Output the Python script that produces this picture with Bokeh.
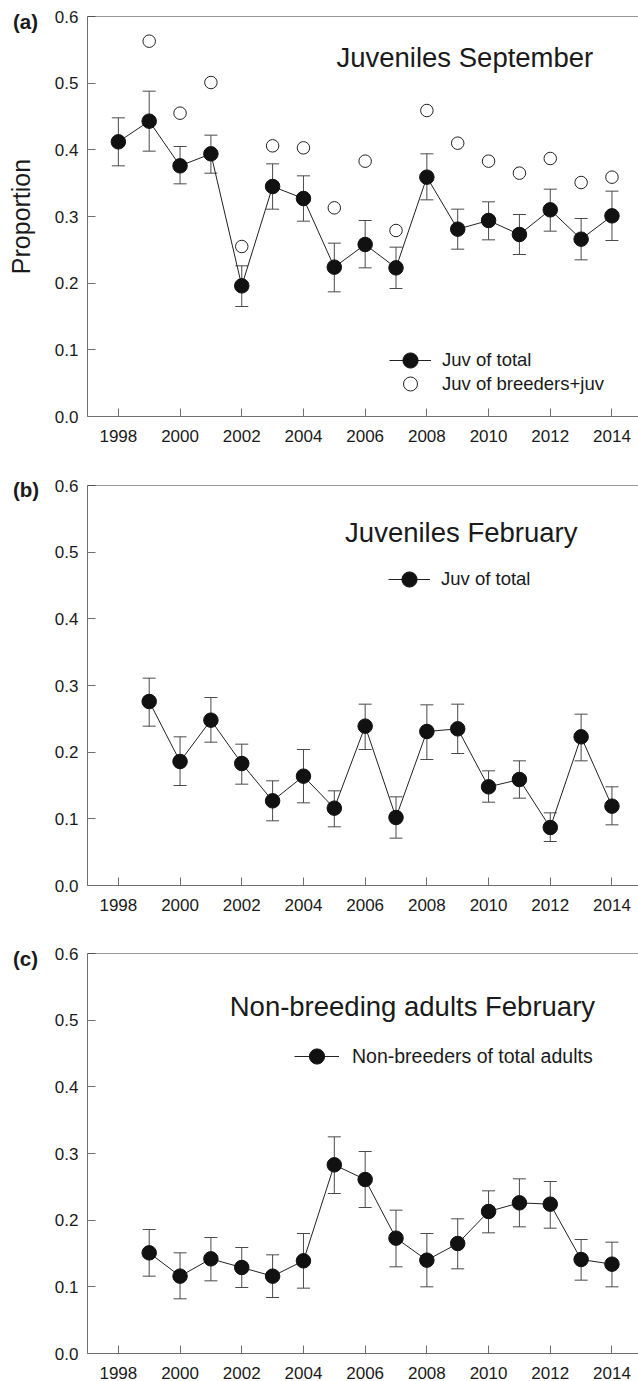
from bokeh.plotting import figure
from bokeh.layouts import column, row
from bokeh.models import (ColumnDataSource, Whisker, TeeHead, Legend, LegendItem,
                          Label, Span, Range1d)
from bokeh.embed import file_html
from bokeh.resources import INLINE
import math

# ---------------- data ----------------
x_ticks = [1998, 2000, 2002, 2004, 2006, 2008, 2010, 2012, 2014]
y_ticks = [0.0, 0.1, 0.2, 0.3, 0.4, 0.5, 0.6]
y_tick_labels = ["0.0", "0.1", "0.2", "0.3", "0.4", "0.5", "0.6"]

# (a) Juveniles September
sep_years = [1998, 1999, 2000, 2001, 2002, 2003, 2004, 2005, 2006, 2007, 2008,
             2009, 2010, 2011, 2012, 2013, 2014]
sep_juv_total = [0.412, 0.443, 0.376, 0.394, 0.196, 0.345, 0.327, 0.224, 0.258,
                 0.223, 0.359, 0.281, 0.294, 0.273, 0.310, 0.266, 0.301]
sep_juv_total_upper = [0.448, 0.488, 0.405, 0.422, 0.226, 0.379, 0.361, 0.260, 0.294,
                       0.254, 0.394, 0.311, 0.322, 0.303, 0.341, 0.297, 0.338]
sep_juv_total_lower = [0.376, 0.398, 0.349, 0.365, 0.165, 0.311, 0.293, 0.187, 0.223,
                       0.192, 0.325, 0.251, 0.265, 0.243, 0.278, 0.235, 0.264]
sep_breed_years = [1999, 2000, 2001, 2002, 2003, 2004, 2005, 2006, 2007, 2008,
                   2009, 2010, 2011, 2012, 2013, 2014]
sep_juv_breeders = [0.563, 0.455, 0.501, 0.255, 0.406, 0.403, 0.313, 0.383, 0.279,
                    0.459, 0.410, 0.383, 0.365, 0.387, 0.351, 0.359]

# (b) Juveniles February
feb_years = [1999, 2000, 2001, 2002, 2003, 2004, 2005, 2006, 2007, 2008,
             2009, 2010, 2011, 2012, 2013, 2014]
feb_juv_total = [0.276, 0.186, 0.248, 0.183, 0.127, 0.164, 0.116, 0.239, 0.102,
                 0.231, 0.235, 0.148, 0.159, 0.087, 0.223, 0.119]
feb_juv_upper = [0.311, 0.223, 0.282, 0.212, 0.157, 0.204, 0.142, 0.272, 0.133,
                 0.271, 0.272, 0.172, 0.187, 0.109, 0.257, 0.148]
feb_juv_lower = [0.239, 0.150, 0.215, 0.152, 0.097, 0.124, 0.088, 0.204, 0.071,
                 0.189, 0.198, 0.125, 0.131, 0.066, 0.187, 0.091]

# (c) Non-breeding adults February
nb_years = [1999, 2000, 2001, 2002, 2003, 2004, 2005, 2006, 2007, 2008,
            2009, 2010, 2011, 2012, 2013, 2014]
nb_total = [0.151, 0.116, 0.142, 0.129, 0.116, 0.139, 0.283, 0.261, 0.173,
            0.140, 0.165, 0.213, 0.226, 0.224, 0.141, 0.134]
nb_upper = [0.186, 0.151, 0.174, 0.159, 0.148, 0.180, 0.325, 0.303, 0.215,
            0.180, 0.202, 0.244, 0.262, 0.258, 0.171, 0.167]
nb_lower = [0.116, 0.082, 0.109, 0.099, 0.084, 0.098, 0.240, 0.219, 0.130,
            0.100, 0.127, 0.181, 0.190, 0.188, 0.110, 0.100]

# ---------------- style ----------------
FONT = "Liberation Sans"
TXT = "#1a1a1a"
AXC = "#6f6f6f"
ERR = "#4a4a4a"
SIDE_W = 46          # strip on the left holding panel tags and the y label
FRAME_W = 551
FRAME_H = 400
PAGE_H = 1381


def make_fig(top, bottom):
    p = figure(frame_width=FRAME_W, frame_height=FRAME_H,
               x_range=Range1d(1997, 2014.86), y_range=Range1d(0, 0.6),
               output_backend="svg", toolbar_location=None,
               min_border_left=87 - SIDE_W, min_border_right=0,
               min_border_top=top, min_border_bottom=bottom)
    p.grid.visible = False
    p.outline_line_color = None
    p.background_fill_color = "white"
    p.border_fill_color = "white"
    p.xaxis.ticker = x_ticks
    p.yaxis.ticker = y_ticks
    p.yaxis.major_label_overrides = {v: s for v, s in zip(y_ticks, y_tick_labels)}
    for ax in (p.xaxis[0], p.yaxis[0]):
        ax.axis_line_color = AXC
        ax.axis_line_width = 1
        ax.major_tick_line_color = AXC
        ax.minor_tick_line_color = None
        ax.major_tick_in = 8
        ax.major_tick_out = 0
        ax.major_label_text_font = FONT
        ax.major_label_text_font_size = "17px"
        ax.major_label_text_color = TXT
    p.xaxis.major_label_standoff = 13
    p.yaxis.major_label_standoff = 9
    p.add_layout(Span(location=0.6, dimension="width", line_color="#333333", line_width=1))
    return p


def add_series(p, xs, ys, up, lo):
    src = ColumnDataSource(dict(x=xs, y=ys, upper=up, lower=lo))
    w = Whisker(source=src, base="x", upper="upper", lower="lower",
                line_color=ERR, line_width=1,
                upper_head=TeeHead(size=13, line_color=ERR, line_width=1),
                lower_head=TeeHead(size=13, line_color=ERR, line_width=1))
    p.add_layout(w)
    rl = p.line("x", "y", source=src, line_color="#222222", line_width=1)
    rp = p.scatter("x", "y", source=src, marker="circle", size=14.5,
                   fill_color="#111111", line_color="#111111")
    return rl, rp


def add_legend(p, label, renderers, loc, gw, gh, standoff, fs):
    leg = Legend(items=[LegendItem(label=label, renderers=renderers)],
                 location=loc, orientation="vertical",
                 glyph_width=gw, glyph_height=gh, label_height=gh,
                 label_standoff=standoff, padding=0, margin=0, spacing=0,
                 border_line_color=None, background_fill_alpha=0,
                 label_text_font=FONT, label_text_font_size=fs,
                 label_text_color=TXT)
    p.add_layout(leg)


def add_title(p, x, y, text):
    p.add_layout(Label(x=x, y=y, text=text, text_font=FONT, text_font_size="27.5px",
                       text_color=TXT, text_baseline="middle", text_align="left"))


# ---------------- panel (a) ----------------
pa = make_fig(16, 55)
la, pa_pts = add_series(pa, sep_years, sep_juv_total, sep_juv_total_upper, sep_juv_total_lower)
src_open = ColumnDataSource(dict(x=sep_breed_years, y=sep_juv_breeders))
ro = pa.scatter("x", "y", source=src_open, marker="circle", size=12.5,
                fill_color="white", line_color="#222222", line_width=1)
add_legend(pa, "Juv of total", [la, pa_pts], (302, 37), 42, 38, 11, "18.5px")
add_legend(pa, "Juv of breeders+juv", [ro], (302, 15), 42, 35, 11, "18.5px")
add_title(pa, 2005.07, 0.5385, "Juveniles September")

# ---------------- panel (b) ----------------
pb = make_fig(14, 54)
lb, pb_pts = add_series(pb, feb_years, feb_juv_total, feb_juv_upper, feb_juv_lower)
add_legend(pb, "Juv of total", [lb, pb_pts], (301, 287), 42, 38, 11, "18.5px")
add_title(pb, 2005.35, 0.53, "Juveniles February")

# ---------------- panel (c) ----------------
pc = make_fig(14, 28)
lc, pc_pts = add_series(pc, nb_years, nb_total, nb_upper, nb_lower)
add_legend(pc, "Non-breeders of total adults", [lc, pc_pts], (207, 278), 45, 38, 13, "19.5px")
add_title(pc, 2001.61, 0.52, "Non-breeding adults February")

# ---------------- left strip: panel tags and y-axis title ----------------
side = figure(frame_width=SIDE_W, frame_height=PAGE_H,
              x_range=Range1d(0, SIDE_W), y_range=Range1d(PAGE_H, 0),
              x_axis_type=None, y_axis_type=None,
              output_backend="svg", toolbar_location=None,
              min_border_left=0, min_border_right=0,
              min_border_top=0, min_border_bottom=0)
side.outline_line_color = None
side.grid.visible = False
for tag, ty in (("(a)", 20.5), ("(b)", 488.5), ("(c)", 958.0)):
    side.add_layout(Label(x=12.5, y=ty, text=tag, text_font=FONT, text_font_size="20.5px",
                          text_font_style="bold", text_color=TXT,
                          text_baseline="middle", text_align="left"))
side.add_layout(Label(x=20, y=216, text="Proportion", text_font=FONT,
                      text_font_size="25px", text_color=TXT, angle=math.pi / 2,
                      text_baseline="middle", text_align="center"))

layout = row(side, column(pa, pb, pc, spacing=0), spacing=0)
open("out.html", "w").write(file_html(layout, INLINE))
